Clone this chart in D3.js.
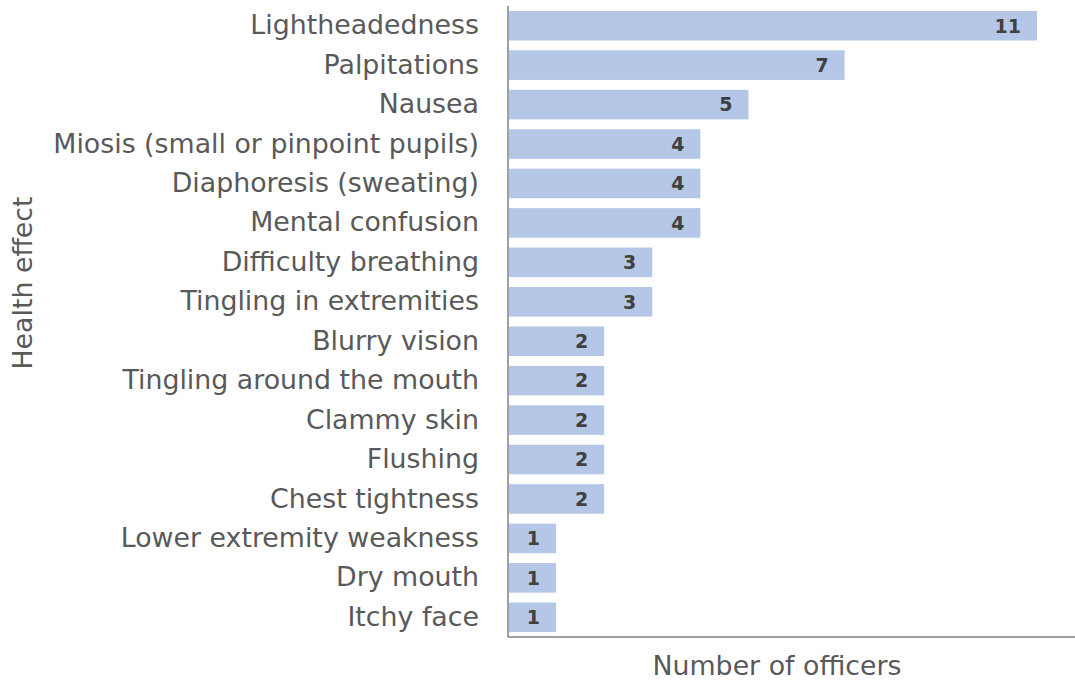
<!DOCTYPE html>
<html><head><meta charset="utf-8">
<script src="https://cdn.jsdelivr.net/npm/d3@7"></script>
<style>body{margin:0;background:#fff}svg{display:block}</style>
</head><body>
<script>
const categories = ["Lightheadedness","Palpitations","Nausea","Miosis (small or pinpoint pupils)","Diaphoresis (sweating)","Mental confusion","Difficulty breathing","Tingling in extremities","Blurry vision","Tingling around the mouth","Clammy skin","Flushing","Chest tightness","Lower extremity weakness","Dry mouth","Itchy face"];
const values = [11,7,5,4,4,4,3,3,2,2,2,2,2,1,1,1];
const xTitle = "Number of officers";
const yTitle = "Health effect";

const W = 1075, H = 681;
const mLeft = 508, mRight = 1075, mTop = 6, mBottom = 637;
const svg = d3.select("body").append("svg").attr("width", W).attr("height", H);
const font = "'DejaVu Sans', sans-serif";

const x = d3.scaleLinear().domain([0, 11.79]).range([mLeft, mRight]);
const y = d3.scaleBand().domain(categories).range([mTop, mBottom]).paddingInner(0.25).paddingOuter(0.125);

svg.selectAll("rect.bar").data(categories).join("rect")
  .attr("x", x(0) + 1).attr("y", d => y(d))
  .attr("width", (d,i) => x(values[i]) - x(0) - 1).attr("height", y.bandwidth())
  .attr("fill", "#B4C7E7");

svg.selectAll("text.val").data(categories).join("text")
  .attr("x", (d,i) => x(values[i]) - 16).attr("y", d => y(d) + y.bandwidth()/2)
  .attr("dy", "0.36em").attr("text-anchor", "end")
  .attr("font-family", font).attr("font-weight", "bold").attr("font-size", 19)
  .attr("fill", "#404040").text((d,i) => values[i]);

const yAxis = svg.append("g").attr("transform", `translate(${mLeft},0)`)
  .call(d3.axisLeft(y).tickSize(0).tickPadding(29));
yAxis.select(".domain").remove();
yAxis.selectAll("text").attr("font-family", font).attr("font-size", 26.8).attr("fill", "#595959");

svg.append("line").attr("x1", mLeft).attr("x2", mLeft).attr("y1", mTop).attr("y2", mBottom)
  .attr("stroke", "#808080").attr("stroke-width", 1.5);
svg.append("line").attr("x1", mLeft).attr("x2", mRight).attr("y1", mBottom).attr("y2", mBottom)
  .attr("stroke", "#808080").attr("stroke-width", 1.5);

svg.append("text").attr("x", 777).attr("y", 675).attr("text-anchor", "middle")
  .attr("font-family", font).attr("font-size", 26.8).attr("fill", "#595959").text(xTitle);
svg.append("text").attr("transform", "translate(32,283) rotate(-90)").attr("text-anchor", "middle")
  .attr("font-family", font).attr("font-size", 26.8).attr("fill", "#595959").text(yTitle);
</script>
</body></html>
